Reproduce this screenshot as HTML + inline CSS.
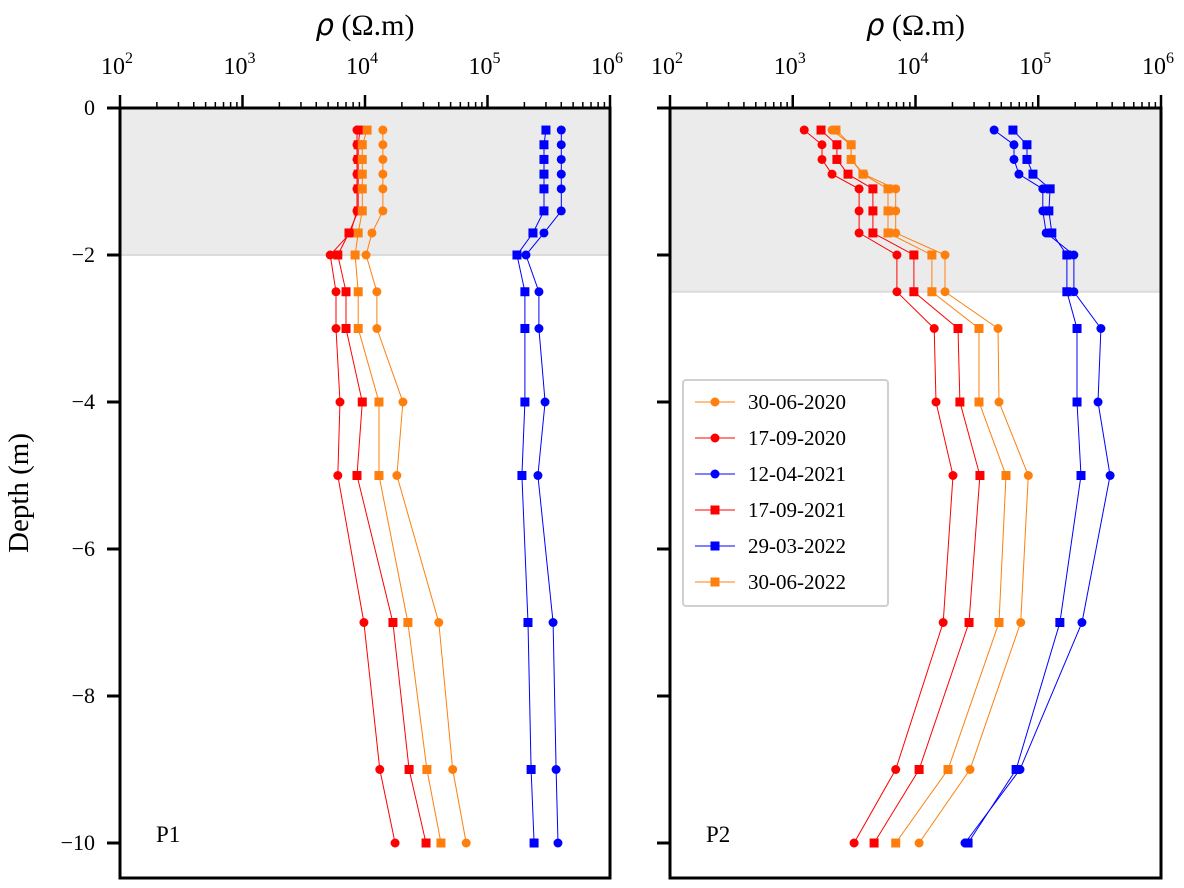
<!DOCTYPE html>
<html><head><meta charset="utf-8"><style>
body{margin:0;background:#fff}
svg{display:block;font-family:"Liberation Serif",serif}
</style></head><body>
<svg id="chart" width="1184" height="888" viewBox="0 0 1184 888" xmlns="http://www.w3.org/2000/svg"></svg>
<script>
const depths = [-0.3,-0.5,-0.7,-0.9,-1.1,-1.4,-1.7,-2,-2.5,-3,-4,-5,-7,-9,-10];
const seriesNames = ["30-06-2020","17-09-2020","12-04-2021","17-09-2021","29-03-2022","30-06-2022"];
const seriesColors = ["#ff7f0e","#ff0000","#0000ff","#ff0000","#0000ff","#ff7f0e"];
const seriesMarkers = ["circle","circle","circle","square","square","square"];
const xTickLabels = ["2","3","4","5","6"];
const yTicks = [0,-2,-4,-6,-8,-10];
const shadeDepth = [-2,-2.5];
const panelLabels = ["P1","P2"];
// P1 values (Ohm.m)
const p1_300620 = [1.4e4,1.4e4,1.4e4,1.4e4,1.4e4,1.4e4,1.14e4,1.02e4,1.25e4,1.25e4,2.04e4,1.82e4,4.0e4,5.2e4,6.7e4];
const p1_170920 = [8.6e3,8.6e3,8.6e3,8.6e3,8.6e3,8.6e3,7.6e3,5.2e3,5.8e3,5.8e3,6.25e3,6.0e3,9.8e3,1.32e4,1.76e4];
const p1_120421 = [4.0e5,4.0e5,4.0e5,4.0e5,4.0e5,4.0e5,2.89e5,2.06e5,2.63e5,2.63e5,2.95e5,2.58e5,3.43e5,3.63e5,3.76e5];
const p1_170921 = [9.1e3,8.8e3,8.8e3,8.8e3,8.8e3,8.8e3,7.4e3,6.0e3,7.0e3,7.0e3,9.5e3,8.6e3,1.69e4,2.29e4,3.15e4];
const p1_290322 = [3.0e5,2.89e5,2.89e5,2.89e5,2.89e5,2.89e5,2.35e5,1.74e5,2.02e5,2.02e5,2.02e5,1.91e5,2.14e5,2.27e5,2.4e5];
const p1_300622 = [1.04e4,9.5e3,9.5e3,9.5e3,9.5e3,9.5e3,8.8e3,8.3e3,8.8e3,8.8e3,1.3e4,1.3e4,2.24e4,3.2e4,4.17e4];
// P2 values (Ohm.m)
const p2_300620 = [2.09e3,2.99e3,2.99e3,3.8e3,6.9e3,6.9e3,6.9e3,1.74e4,1.74e4,4.7e4,4.79e4,8.3e4,7.2e4,2.78e4,1.07e4];
const p2_170920 = [1.24e3,1.73e3,1.73e3,2.09e3,3.47e3,3.47e3,3.47e3,7.06e3,7.06e3,1.42e4,1.47e4,2.02e4,1.68e4,6.9e3,3.16e3];
const p2_120421 = [4.37e4,6.34e4,6.34e4,6.96e4,1.09e5,1.09e5,1.16e5,1.95e5,1.95e5,3.24e5,3.07e5,3.85e5,2.27e5,7.1e4,2.53e4];
const p2_170921 = [1.7e3,2.29e3,2.29e3,2.82e3,4.5e3,4.5e3,4.5e3,9.7e3,9.7e3,2.22e4,2.3e4,3.35e4,2.73e4,1.07e4,4.6e3];
const p2_290322 = [6.22e4,8.09e4,8.09e4,9.06e4,1.25e5,1.22e5,1.29e5,1.71e5,1.71e5,2.07e5,2.07e5,2.23e5,1.5e5,6.6e4,2.68e4];
const p2_300622 = [2.25e3,2.99e3,2.99e3,3.73e3,5.97e3,5.97e3,5.97e3,1.36e4,1.36e4,3.29e4,3.29e4,5.46e4,4.79e4,1.84e4,6.9e3];

const panelSeries = [
  [p1_300620,p1_170920,p1_120421,p1_170921,p1_290322,p1_300622],
  [p2_300620,p2_170920,p2_120421,p2_170921,p2_290322,p2_300622]
];
const svg = document.getElementById('chart');
const NS = 'http://www.w3.org/2000/svg';
function mk(tag, attrs, parent){
  const e = document.createElementNS(NS, tag);
  for (const k in attrs) e.setAttribute(k, attrs[k]);
  (parent||svg).appendChild(e);
  return e;
}
const panels = [{x0:120,x1:610},{x0:670,x1:1161}];
const Y0 = 108, YB = 878, PXM = 73.5;
function yS(d){ return Y0 - d*PXM; }

panels.forEach((p, pi) => {
  const xS = v => p.x0 + (Math.log10(v) - 2) * (p.x1 - p.x0) / 4;
  const g = mk('g', {});
  
  
  const sh = mk('rect', {x:p.x0, y:Y0, width:p.x1-p.x0, height:yS(shadeDepth[pi])-Y0, fill:'#ebebeb'}, g);
  
  
  mk('line', {x1:p.x0, x2:p.x1, y1:yS(shadeDepth[pi]), y2:yS(shadeDepth[pi]), stroke:'#dcdcdc', 'stroke-width':2}, g);
  panelSeries[pi].forEach((vals, si) => {
    const sg = mk('g', {}, g);
    
    
    const pts = vals.map((v,i) => xS(v).toFixed(1) + ',' + yS(depths[i]).toFixed(1)).join(' ');
    mk('polyline', {points:pts, fill:'none', stroke:seriesColors[si], 'stroke-width':1}, sg);
    vals.forEach((v,i) => {
      const cx = xS(v), cy = yS(depths[i]);
      let m;
      if (seriesMarkers[si] === 'circle') m = mk('circle', {cx:cx, cy:cy, r:4.5, fill:seriesColors[si]}, sg);
      else m = mk('rect', {x:cx-4.5, y:cy-4.5, width:9, height:9, fill:seriesColors[si]}, sg);
      
      
    });
  });
  const fr = mk('path', {d:`M${p.x0},${Y0} V${YB} H${p.x1} V${Y0} Z`, fill:'none', stroke:'#000', 'stroke-width':3}, g);
  
  
  for (let dec = 2; dec <= 6; dec++) {
    const x = xS(Math.pow(10, dec));
    mk('line', {x1:x, x2:x, y1:Y0, y2:Y0-13, stroke:'#000', 'stroke-width':2.5}, g);
    const t = mk('text', {x:x-3, y:74, 'font-size':24, 'text-anchor':'middle'}, g);
    
    
    t.textContent = '10';
    const s = mk('tspan', {dy:-11, 'font-size':16}, t);
    s.textContent = xTickLabels[dec-2];
    if (dec < 6) for (let k = 2; k <= 9; k++) {
      const xm = xS(k * Math.pow(10, dec));
      mk('line', {x1:xm, x2:xm, y1:Y0, y2:Y0-6, stroke:'#000', 'stroke-width':1.5}, g);
    }
  }
  yTicks.forEach(d => {
    const y = yS(d);
    mk('line', {x1:p.x0-13, x2:p.x0, y1:y, y2:y, stroke:'#000', 'stroke-width':3}, g);
    if (pi === 0) {
      const t = mk('text', {x:95, y:y+7, 'font-size':22, 'text-anchor':'end'}, g);
      
      
      t.textContent = d === 0 ? '0' : '\u2212' + Math.abs(d);
    }
  });
  const xt = mk('text', {x:(p.x0+p.x1)/2, y:35, 'font-size':30, 'text-anchor':'middle'}, g);
  
  
  xt.innerHTML = '<tspan font-style="italic" font-family="DejaVu Sans" font-size="29">ρ</tspan> (Ω.m)';
  const pl = mk('text', {x:p.x0+36, y:842, 'font-size':23}, g);
  
  
  pl.textContent = panelLabels[pi];
});
const yt = mk('text', {x:28, y:493, 'font-size':29, 'text-anchor':'middle', transform:'rotate(-90 28 493)'});


yt.textContent = 'Depth (m)';
const lg = mk('g', {});


mk('rect', {x:683, y:380, width:205, height:226, rx:3, fill:'#fff', stroke:'#d0d0d0', 'stroke-width':2}, lg);
seriesNames.forEach((n, i) => {
  const y = 402 + i*36;
  const e = mk('g', {}, lg);
  
  
  mk('line', {x1:695, x2:735, y1:y, y2:y, stroke:seriesColors[i], 'stroke-width':1}, e);
  if (seriesMarkers[i] === 'circle') mk('circle', {cx:715, cy:y, r:4.5, fill:seriesColors[i]}, e);
  else mk('rect', {x:710.5, y:y-4.5, width:9, height:9, fill:seriesColors[i]}, e);
  const t = mk('text', {x:748, y:y+7, 'font-size':21}, e);
  t.textContent = n;
});
</script>
</body></html>
